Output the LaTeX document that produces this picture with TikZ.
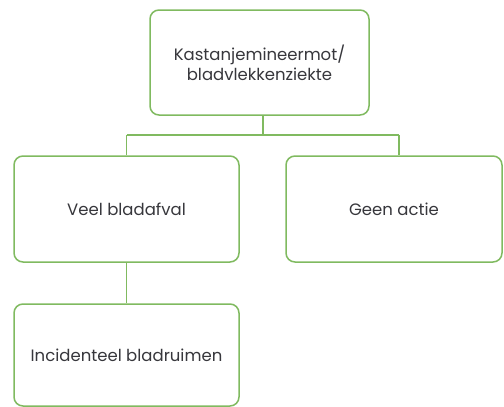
\documentclass[tikz,border=0pt]{standalone}
\usepackage{fontspec}
\setmainfont{Poppins}
\begin{document}
\begin{tikzpicture}[x=1pt,y=-1pt,
  box/.style={draw=boxgreen,line width=1.5pt,rounded corners=9pt,fill=white,
    minimum width=#1,align=center,text=textgray,font=\fontsize{16.5}{20}\selectfont},
  link/.style={draw=boxgreen,line width=1.5pt}]
\definecolor{boxgreen}{RGB}{128,186,96}
\definecolor{textgray}{RGB}{55,55,60}
\useasboundingbox (0,0) rectangle (504,407);
\node[box=219pt,minimum height=105pt] (top) at (259.5,62.5) {Kastanjemineermot/\\bladvlekkenziekte};
\node[box=225pt,minimum height=106pt] (veel) at (126.5,209) {Veel bladafval};
\node[box=216pt,minimum height=106pt] (geen) at (394,209) {Geen actie};
\node[box=225pt,minimum height=102pt] (inc) at (126.5,355) {Incidenteel bladruimen};
\coordinate (bus) at (0,135);
\coordinate (topfoot) at ([xshift=3.5pt]top.south);
\coordinate (geenhead) at ([xshift=5pt]geen.north);
\draw[link] (topfoot) -- (topfoot |- bus);
\draw[link] (veel.north |- bus) -- (geenhead |- bus);
\draw[link] (veel.north |- bus) -- (veel.north);
\draw[link] (geenhead |- bus) -- (geenhead);
\draw[link] (veel.south) -- (inc.north);
\end{tikzpicture}
\end{document}
